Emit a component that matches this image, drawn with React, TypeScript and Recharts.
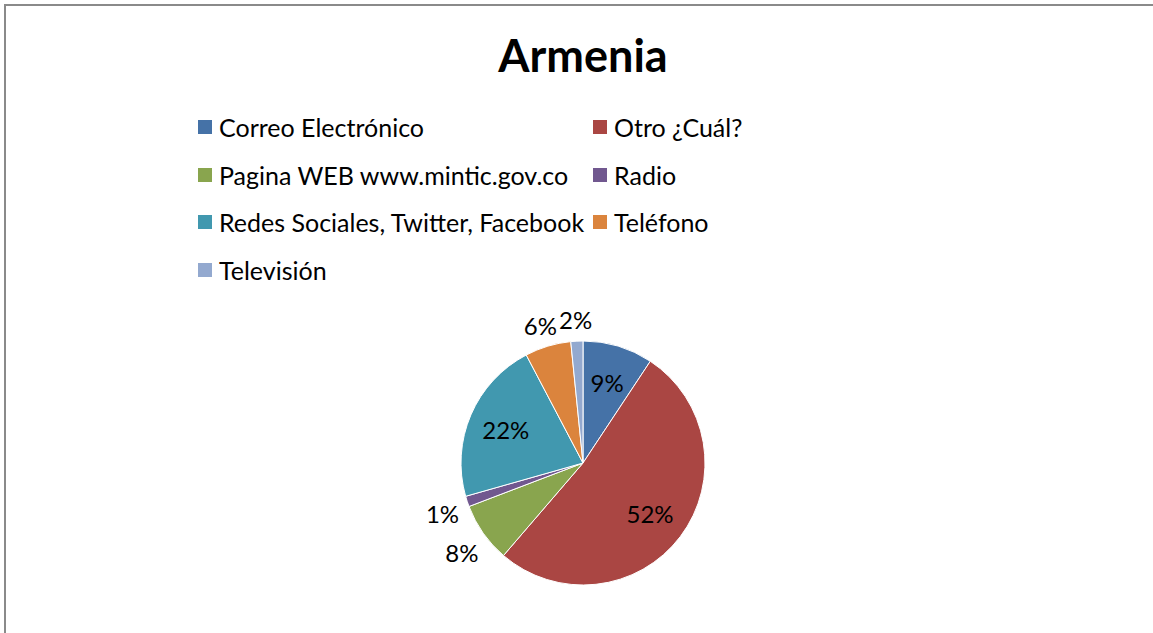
import { Pie, PieChart, Cell, Legend } from "recharts";

// Armenia — medios de comunicación (pie)
const categories = [
  "Correo Electrónico",
  "Otro ¿Cuál?",
  "Pagina WEB www.mintic.gov.co",
  "Radio",
  "Redes Sociales, Twitter, Facebook",
  "Teléfono",
  "Televisión",
];
const shares = [9.3, 52.0, 7.9, 1.4, 21.7, 6.1, 1.6];
const colors = ["#4572A7", "#AA4643", "#89A54E", "#71588F", "#4198AF", "#DB843D", "#93A9CF"];

const data = categories.map((name, i) => ({ name, value: shares[i] }));

const FONT = "Lato, 'Open Sans', sans-serif";
const RAD = Math.PI / 180;

const renderLabel = (p: any) => {
  const { cx, cy, midAngle, percent } = p;
  const inside = percent >= 0.085;
  const r = inside ? 84 : 148;
  const x = cx + r * Math.cos(-midAngle * RAD);
  // etiquetas externas un poco más abajo (como el "best fit" de Excel)
  const y = cy + r * Math.sin(-midAngle * RAD) + (inside ? 0 : 4);
  return (
    <text x={x} y={y} textAnchor="middle" dominantBaseline="central" fill="#000" fontSize={24} fontFamily={FONT}>
      {`${Math.round(percent * 100)}%`}
    </text>
  );
};

// legend: 2 columnas, como en Excel
const legendCols = [198, 593];
const legendRows = [127, 175, 222, 270];

const renderLegend = () => (
  <div style={{ position: "relative", width: 1153, height: 300 }}>
    {categories.map((name, i) => {
      const col = i % 2;
      const row = Math.floor(i / 2);
      return (
        <div
          key={name}
          style={{
            position: "absolute",
            left: legendCols[col],
            top: legendRows[row] - 15,
            height: 30,
            display: "flex",
            alignItems: "center",
            fontFamily: FONT,
            fontSize: 25,
            color: "#000",
            whiteSpace: "nowrap",
          }}
        >
          <span style={{ display: "inline-block", width: 14, height: 14, background: colors[i], marginRight: 7 }} />
          {name}
        </div>
      );
    })}
  </div>
);

export default function App() {
  return (
    <div style={{ position: "fixed", left: 0, top: 0, width: 1153, height: 633, background: "#fff", overflow: "hidden" }}>
      <div
        style={{
          position: "absolute",
          left: 4,
          top: 4,
          width: 1149,
          height: 629,
          borderLeft: "2px solid #8a8a8a",
          borderTop: "2px solid #8a8a8a",
          boxSizing: "border-box",
        }}
      />
      <div style={{ position: "absolute", left: 0, top: 0 }}>
        <PieChart width={1153} height={633} margin={{ top: 0, right: 0, bottom: 0, left: 0 }}>
          <text x={583} y={72} textAnchor="middle" fontSize={45} fontWeight="bold" fontFamily={FONT} fill="#000">
            Armenia
          </text>
          <Legend
            content={renderLegend}
            wrapperStyle={{ position: "absolute", left: 0, top: 0, width: 1153, height: 300 }}
          />
          <Pie
            data={data}
            dataKey="value"
            nameKey="name"
            cx={583}
            cy={463}
            outerRadius={122}
            startAngle={90}
            endAngle={-270}
            stroke="#fff"
            strokeWidth={1}
            label={renderLabel}
            labelLine={false}
            isAnimationActive={false}
          >
            {data.map((d, i) => (
              <Cell key={d.name} fill={colors[i]} />
            ))}
          </Pie>
        </PieChart>
      </div>
    </div>
  );
}
